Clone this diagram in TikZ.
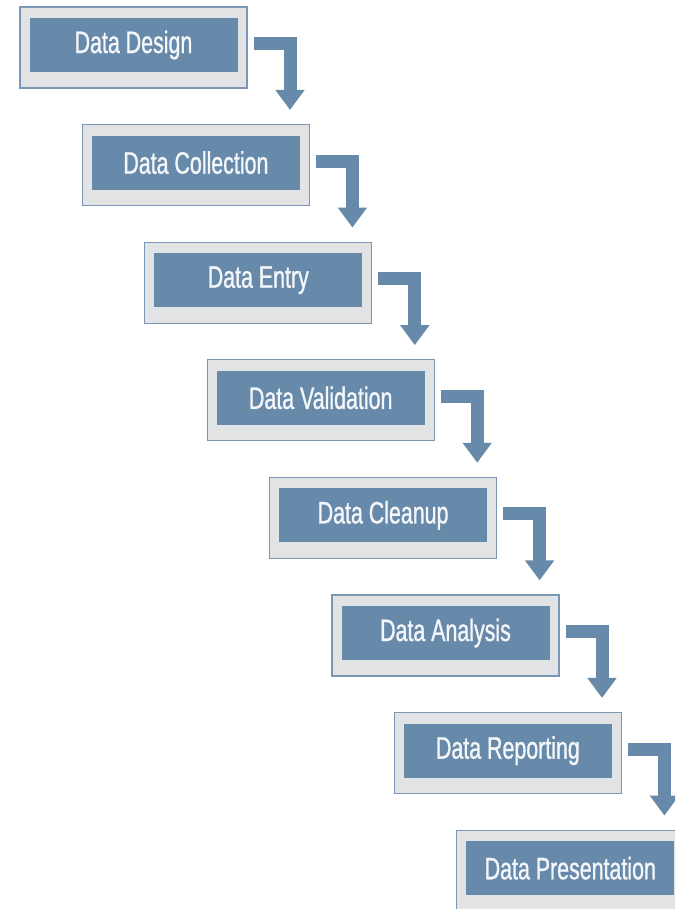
\documentclass[tikz,border=0pt]{standalone}
\usepackage{fontspec}
\usetikzlibrary{arrows.meta}
\newfontfamily\steplabel[FakeStretch=0.69,FakeBold=0.9]{Liberation Sans}
\definecolor{stepblue}{RGB}{104,138,170}
\definecolor{framegray}{RGB}{226,227,229}
\definecolor{frameline}{RGB}{122,152,182}
\definecolor{labelwhite}{RGB}{244,247,250}
\tikzset{
  x=1pt, y=-1pt,
  frame/.style={rectangle, draw=frameline, line width=1.3pt, fill=framegray,
    minimum width=227pt, minimum height=81pt, inner sep=0pt},
  panel/.style={rectangle, fill=stepblue, minimum width=208pt, minimum height=54pt,
    inner sep=0pt, text=labelwhite, font=\steplabel\fontsize{31}{31}\selectfont},
  flow/.style={draw=stepblue, line width=13pt, line join=miter,
    -{Triangle[width=28pt,length=20pt]}}
}
\begin{document}
\begin{tikzpicture}
\useasboundingbox (0,0) rectangle (675,909);
\clip (0,0) rectangle (675,909);
\fill[white] (0,0) rectangle (675,909);
% the eight stages, each a grey frame holding a blue label panel
\foreach \i/\name/\txt in {0/b1/Data Design, 1/b2/Data Collection, 2/b3/Data Entry,
    3/b4/Data Validation, 4/b5/Data Cleanup, 5/b6/Data Analysis,
    6/b7/Data Reporting, 7/b8/Data Presentation}{
  \node[frame] (\name) at ({133.5+62.4*\i},{47.5+117.6*\i}) {};
  \node[panel] (p\name) at ([yshift=2.5pt]\name.center) {\txt};
}
% elbow arrows from each stage down to the next
\foreach \a/\b in {b1/b2, b2/b3, b3/b4, b4/b5, b5/b6, b6/b7, b7/b8}{
  \draw[flow] ([xshift=6pt,yshift=4pt]\a.east) -| ([xshift=94.1pt,yshift=14pt]\b.north);
}
\end{tikzpicture}
\end{document}
